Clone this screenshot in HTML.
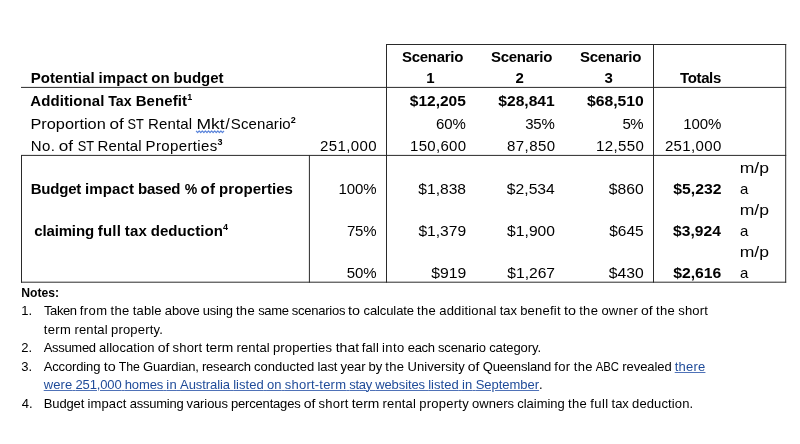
<!DOCTYPE html>
<html lang="en"><head><meta charset="utf-8"><title>Potential impact on budget</title>
<style>
html,body{margin:0;padding:0;background:#fff;}
body{width:800px;height:444px;position:relative;overflow:hidden;will-change:transform;font-family:"Liberation Sans",Arial,Helvetica,sans-serif;color:#000;font-variant-ligatures:none;}
svg.g{position:absolute;left:0;top:0;}
#tx{position:absolute;left:0;top:0;width:800px;height:444px;filter:blur(0.3px);}
.t{position:absolute;white-space:nowrap;line-height:20px;height:20px;transform-origin:0 0;}
.t sup{font-size:60%;font-weight:bold;line-height:0;vertical-align:baseline;position:relative;top:-0.67em;letter-spacing:0;}
.t a{color:#1f4b99;text-decoration:underline #4f72b8;text-decoration-thickness:1px;text-underline-offset:1px;}
.t u{text-decoration:none;}
.t .w{display:inline-block;transform-origin:0 0;}
</style></head>
<body>
<svg class="g" width="800" height="444" viewBox="0 0 800 444"><line x1="21" y1="87.4" x2="786.2" y2="87.4" stroke="#2a2a2a" stroke-width="1"/><line x1="386" y1="44.5" x2="786.2" y2="44.5" stroke="#2a2a2a" stroke-width="1"/><line x1="386.5" y1="44" x2="386.5" y2="282.7" stroke="#2a2a2a" stroke-width="1"/><line x1="653.5" y1="44" x2="653.5" y2="282.7" stroke="#2a2a2a" stroke-width="1"/><line x1="785.7" y1="44" x2="785.7" y2="282.7" stroke="#2a2a2a" stroke-width="1"/><line x1="21" y1="155.4" x2="786.2" y2="155.4" stroke="#2a2a2a" stroke-width="1"/><line x1="21.5" y1="155" x2="21.5" y2="282.7" stroke="#2a2a2a" stroke-width="1"/><line x1="309.4" y1="155" x2="309.4" y2="282.7" stroke="#2a2a2a" stroke-width="1"/><line x1="21" y1="282.2" x2="786.2" y2="282.2" stroke="#2a2a2a" stroke-width="1"/><polyline points="196.10,130.85 197.65,132.55 199.20,130.85 200.75,132.55 202.30,130.85 203.85,132.55 205.40,130.85 206.95,132.55 208.50,130.85 210.05,132.55 211.60,130.85 213.15,132.55 214.70,130.85 216.25,132.55 217.80,130.85 219.35,132.55 220.90,130.85 222.45,132.55 224.00,130.85" fill="none" stroke="#5a84da" stroke-width="1.2" stroke-linejoin="round"/></svg>
<div id="tx">
<div class="t" id="i0" style="top:68px;font-size:15px;font-weight:bold;left:0;transform:translateX(30.65px);word-spacing:-0.30px;"><span style="letter-spacing:0.08px">Potential</span> <span style="letter-spacing:0.09px">impact</span> <span style="letter-spacing:0.03px">on</span> <span style="letter-spacing:-0.01px">budget</span></div>
<div class="t" id="i1" style="top:47px;font-size:15px;font-weight:bold;left:0;transform:translateX(402.00px);word-spacing:-0.30px;"><span style="letter-spacing:-0.29px">Scenario</span></div>
<div class="t" id="i2" style="top:68px;font-size:15px;font-weight:bold;left:0;transform:translateX(426.17px);">1</div>
<div class="t" id="i3" style="top:47px;font-size:15px;font-weight:bold;left:0;transform:translateX(491.00px);word-spacing:-0.29px;"><span style="letter-spacing:-0.29px">Scenario</span></div>
<div class="t" id="i4" style="top:68px;font-size:15px;font-weight:bold;left:0;transform:translateX(515.62px);">2</div>
<div class="t" id="i5" style="top:47px;font-size:15px;font-weight:bold;left:0;transform:translateX(580.00px);word-spacing:-0.29px;"><span style="letter-spacing:-0.29px">Scenario</span></div>
<div class="t" id="i6" style="top:68px;font-size:15px;font-weight:bold;left:0;transform:translateX(604.62px);">3</div>
<div class="t" id="i7" style="top:68px;font-size:15px;font-weight:bold;left:0;transform:translateX(680.00px);word-spacing:-0.37px;"><span style="letter-spacing:-0.36px">Totals</span></div>
<div class="t" id="i8" style="top:91px;font-size:15px;font-weight:bold;left:0;transform:translateX(30.25px);word-spacing:-0.28px;"><span style="letter-spacing:0.09px">Additional</span> <span class="w" style="transform:scaleX(0.9458);margin-right:-1.34px">Tax</span> <span style="letter-spacing:0.09px">Benefit</span><sup>1</sup></div>
<div class="t" id="i9" style="top:114px;font-size:15px;left:0;transform:translateX(30.40px);word-spacing:-0.29px;"><span class="w" style="transform:scaleX(1.0882);margin-right:6.10px">Proportion</span> <span class="w" style="transform:scaleX(1.1419);margin-right:1.78px">of</span> <span class="w" style="transform:scaleX(0.8535);margin-right:-2.77px">ST</span> <span style="letter-spacing:0.13px">Rental</span> <u class="sq"><span class="w" style="transform:scaleX(1.1645);margin-right:3.98px">Mkt</span></u><span style="margin:0 1.23px">/</span><span style="letter-spacing:0.09px">Scenario</span><sup>2</sup></div>
<div class="t" id="i10" style="top:136px;font-size:15px;left:0;transform:translateX(30.70px);word-spacing:-0.29px;"><span style="letter-spacing:0.38px">No.</span> <span class="w" style="transform:scaleX(1.1420);margin-right:1.78px">of</span> <span class="w" style="transform:scaleX(0.8535);margin-right:-2.77px">ST</span> <span style="letter-spacing:0.13px">Rental</span> <span style="letter-spacing:0.36px">Properties</span><sup>3</sup></div>
<div class="t" id="i11" style="top:91px;font-size:15px;font-weight:bold;left:0;transform:translateX(409.75px);word-spacing:-0.40px;"><span class="w" style="transform:scaleX(1.0341);margin-right:1.85px">$12,205</span></div>
<div class="t" id="i12" style="top:91px;font-size:15px;font-weight:bold;left:0;transform:translateX(498.30px);word-spacing:-0.35px;"><span class="w" style="transform:scaleX(1.0408);margin-right:2.21px">$28,841</span></div>
<div class="t" id="i13" style="top:91px;font-size:15px;font-weight:bold;left:0;transform:translateX(586.90px);word-spacing:-0.29px;"><span class="w" style="transform:scaleX(1.0490);margin-right:2.66px">$68,510</span></div>
<div class="t" id="i14" style="top:114px;font-size:15px;left:0;transform:translateX(436.10px);word-spacing:-0.31px;"><span style="letter-spacing:-0.11px">60%</span></div>
<div class="t" id="i15" style="top:114px;font-size:15px;left:0;transform:translateX(525.20px);word-spacing:-0.39px;"><span style="letter-spacing:-0.20px">35%</span></div>
<div class="t" id="i16" style="top:114px;font-size:15px;left:0;transform:translateX(622.40px);word-spacing:-0.42px;"><span style="letter-spacing:-0.42px">5%</span></div>
<div class="t" id="i17" style="top:114px;font-size:15px;left:0;transform:translateX(683.20px);word-spacing:-0.34px;"><span style="letter-spacing:-0.05px">100%</span></div>
<div class="t" id="i18" style="top:136px;font-size:15px;left:0;transform:translateX(320.10px);word-spacing:-0.20px;"><span style="letter-spacing:0.39px">251,000</span></div>
<div class="t" id="i19" style="top:136px;font-size:15px;left:0;transform:translateX(410.00px);word-spacing:-0.30px;"><span style="letter-spacing:0.30px">150,600</span></div>
<div class="t" id="i20" style="top:136px;font-size:15px;left:0;transform:translateX(507.05px);word-spacing:-0.18px;"><span style="letter-spacing:0.42px">87,850</span></div>
<div class="t" id="i21" style="top:136px;font-size:15px;left:0;transform:translateX(596.05px);word-spacing:-0.24px;"><span style="letter-spacing:0.36px">12,550</span></div>
<div class="t" id="i22" style="top:136px;font-size:15px;left:0;transform:translateX(664.90px);word-spacing:-0.23px;"><span style="letter-spacing:0.37px">251,000</span></div>
<div class="t" id="i23" style="top:179px;font-size:15px;font-weight:bold;left:0;transform:translateX(30.65px);word-spacing:-0.29px;"><span style="letter-spacing:-0.20px">Budget</span> <span style="letter-spacing:0.11px">impact</span> <span style="letter-spacing:-0.20px">based</span> <span class="w" style="transform:scaleX(0.9375);margin-right:-0.83px">%</span> <span style="letter-spacing:0.24px">of</span> <span style="letter-spacing:0.05px">properties</span></div>
<div class="t" id="i24" style="top:221px;font-size:15px;font-weight:bold;left:0;transform:translateX(34.20px);word-spacing:-0.28px;"><span style="letter-spacing:-0.14px">claiming</span> <span style="letter-spacing:0.16px">full</span> <span style="letter-spacing:0.11px">tax</span> <span style="letter-spacing:0.05px">deduction</span><sup>4</sup></div>
<div class="t" id="i25" style="top:179px;font-size:15px;left:0;transform:translateX(338.40px);word-spacing:-0.34px;"><span style="letter-spacing:-0.05px">100%</span></div>
<div class="t" id="i26" style="top:179px;font-size:15px;left:0;transform:translateX(418.30px);word-spacing:-0.34px;"><span class="w" style="transform:scaleX(1.0409);margin-right:1.87px">$1,838</span></div>
<div class="t" id="i27" style="top:179px;font-size:15px;left:0;transform:translateX(506.80px);word-spacing:-0.29px;"><span class="w" style="transform:scaleX(1.0471);margin-right:2.16px">$2,534</span></div>
<div class="t" id="i28" style="top:179px;font-size:15px;left:0;transform:translateX(608.75px);word-spacing:-0.35px;"><span class="w" style="transform:scaleX(1.0470);margin-right:1.57px">$860</span></div>
<div class="t" id="i29" style="top:179px;font-size:15px;font-weight:bold;left:0;transform:translateX(673.30px);word-spacing:-0.29px;"><span class="w" style="transform:scaleX(1.0502);margin-right:2.31px">$5,232</span></div>
<div class="t" id="i30" style="top:158px;font-size:15px;left:0;transform:translateX(739.63px) scaleX(1.1703);">m/p</div>
<div class="t" id="i31" style="top:179px;font-size:15px;left:0;transform:translateX(740.05px);">a</div>
<div class="t" id="i32" style="top:221px;font-size:15px;left:0;transform:translateX(346.90px);word-spacing:-0.36px;"><span style="letter-spacing:-0.16px">75%</span></div>
<div class="t" id="i33" style="top:221px;font-size:15px;left:0;transform:translateX(418.40px);word-spacing:-0.33px;"><span class="w" style="transform:scaleX(1.0417);margin-right:1.91px">$1,379</span></div>
<div class="t" id="i34" style="top:221px;font-size:15px;left:0;transform:translateX(507.10px);word-spacing:-0.31px;"><span class="w" style="transform:scaleX(1.0444);margin-right:2.04px">$1,900</span></div>
<div class="t" id="i35" style="top:221px;font-size:15px;left:0;transform:translateX(609.25px);word-spacing:-0.47px;"><span class="w" style="transform:scaleX(1.0335);margin-right:1.12px">$645</span></div>
<div class="t" id="i36" style="top:221px;font-size:15px;font-weight:bold;left:0;transform:translateX(673.10px);word-spacing:-0.37px;"><span class="w" style="transform:scaleX(1.0400);margin-right:1.84px">$3,924</span></div>
<div class="t" id="i37" style="top:200px;font-size:15px;left:0;transform:translateX(739.63px) scaleX(1.1703);">m/p</div>
<div class="t" id="i38" style="top:221px;font-size:15px;left:0;transform:translateX(740.05px);">a</div>
<div class="t" id="i39" style="top:263px;font-size:15px;left:0;transform:translateX(346.75px);word-spacing:-0.31px;"><span style="letter-spacing:-0.11px">50%</span></div>
<div class="t" id="i40" style="top:263px;font-size:15px;left:0;transform:translateX(431.25px);word-spacing:-0.33px;"><span class="w" style="transform:scaleX(1.0499);margin-right:1.67px">$919</span></div>
<div class="t" id="i41" style="top:263px;font-size:15px;left:0;transform:translateX(507.25px);word-spacing:-0.33px;"><span class="w" style="transform:scaleX(1.0417);margin-right:1.91px">$1,267</span></div>
<div class="t" id="i42" style="top:263px;font-size:15px;left:0;transform:translateX(608.75px);word-spacing:-0.35px;"><span class="w" style="transform:scaleX(1.0470);margin-right:1.57px">$430</span></div>
<div class="t" id="i43" style="top:263px;font-size:15px;font-weight:bold;left:0;transform:translateX(673.25px);word-spacing:-0.31px;"><span class="w" style="transform:scaleX(1.0483);margin-right:2.22px">$2,616</span></div>
<div class="t" id="i44" style="top:242px;font-size:15px;left:0;transform:translateX(739.63px) scaleX(1.1703);">m/p</div>
<div class="t" id="i45" style="top:263px;font-size:15px;left:0;transform:translateX(740.05px);">a</div>
<div class="t" id="i46" style="top:283px;font-size:13px;font-weight:bold;left:0;transform:translateX(21.25px);word-spacing:-0.44px;"><span class="w" style="transform:scaleX(0.9350);margin-right:-2.63px">Notes:</span></div>
<div class="t" id="i47" style="top:301px;font-size:13px;left:0;transform:translateX(21.30px);">1.</div>
<div class="t" id="i48" style="top:301px;font-size:13px;left:0;transform:translateX(43.95px);word-spacing:-0.44px;"><span style="letter-spacing:-0.39px">Taken</span> <span style="letter-spacing:0.39px">from</span> <span style="letter-spacing:0.33px">the</span> <span style="letter-spacing:0.13px">table</span> <span style="letter-spacing:-0.16px">above</span> <span style="letter-spacing:-0.20px">using</span> <span style="letter-spacing:0.33px">the</span> <span style="letter-spacing:-0.35px">same</span> <span style="letter-spacing:-0.24px">scenarios</span> <span class="w" style="transform:scaleX(1.1034);margin-right:1.12px">to</span> <span style="letter-spacing:-0.10px">calculate</span> <span style="letter-spacing:0.33px">the</span> <span style="letter-spacing:0.16px">additional</span> <span style="letter-spacing:-0.05px">tax</span> <span style="letter-spacing:0.24px">benefit</span> <span class="w" style="transform:scaleX(1.1034);margin-right:1.12px">to</span> <span style="letter-spacing:0.33px">the</span> <span style="letter-spacing:0.24px">owner</span> <span class="w" style="transform:scaleX(1.0775);margin-right:0.84px">of</span> <span style="letter-spacing:0.33px">the</span> <span style="letter-spacing:0.19px">short</span></div>
<div class="t" id="i49" style="top:320px;font-size:13px;left:0;transform:translateX(43.75px);word-spacing:-0.44px;"><span style="letter-spacing:0.38px">term</span> <span style="letter-spacing:0.13px">rental</span> <span style="letter-spacing:0.21px">property.</span></div>
<div class="t" id="i50" style="top:338px;font-size:13px;left:0;transform:translateX(21.20px);">2.</div>
<div class="t" id="i51" style="top:338px;font-size:13px;left:0;transform:translateX(43.70px);word-spacing:-0.44px;"><span style="letter-spacing:-0.31px">Assumed</span> <span style="letter-spacing:0.07px">allocation</span> <span class="w" style="transform:scaleX(1.0781);margin-right:0.85px">of</span> <span style="letter-spacing:0.19px">short</span> <span class="w" style="transform:scaleX(1.0635);margin-right:1.65px">term</span> <span style="letter-spacing:0.15px">rental</span> <span style="letter-spacing:0.12px">properties</span> <span class="w" style="transform:scaleX(1.0782);margin-right:1.70px">that</span> <span style="letter-spacing:0.14px">fall</span> <span style="letter-spacing:0.37px">into</span> <span style="letter-spacing:-0.29px">each</span> <span style="letter-spacing:-0.14px">scenario</span> <span style="letter-spacing:-0.08px">category.</span></div>
<div class="t" id="i52" style="top:357px;font-size:13px;left:0;transform:translateX(21.20px);">3.</div>
<div class="t" id="i53" style="top:357px;font-size:13px;left:0;transform:translateX(43.70px);word-spacing:-0.44px;"><span style="letter-spacing:-0.14px">According</span> <span class="w" style="transform:scaleX(1.1038);margin-right:1.13px">to</span> <span class="w" style="transform:scaleX(0.9463);margin-right:-1.20px">The</span> <span style="letter-spacing:-0.14px">Guardian,</span> <span style="letter-spacing:-0.21px">research</span> <span style="letter-spacing:0.02px">conducted</span> <span style="letter-spacing:-0.06px">last</span> <span style="letter-spacing:-0.13px">year</span> <span style="letter-spacing:-0.04px">by</span> <span style="letter-spacing:0.33px">the</span> <span style="letter-spacing:0.01px">University</span> <span class="w" style="transform:scaleX(1.0778);margin-right:0.84px">of</span> <span style="letter-spacing:-0.18px">Queensland</span> <span style="letter-spacing:0.37px">for</span> <span style="letter-spacing:0.33px">the</span> <span class="w" style="transform:scaleX(0.8695);margin-right:-3.49px">ABC</span> <span style="letter-spacing:-0.09px">revealed</span> <a><span style="letter-spacing:0.22px">there</span></a></div>
<div class="t" id="i54" style="top:375px;font-size:13px;left:0;transform:translateX(43.70px);word-spacing:-0.46px;"><a><span style="letter-spacing:0.10px">were</span> <span style="letter-spacing:-0.12px">251,000</span> <span style="letter-spacing:-0.12px">homes</span> <span style="letter-spacing:0.23px">in</span> <span style="letter-spacing:-0.07px">Australia</span> <span style="letter-spacing:0.04px">listed</span> <span style="letter-spacing:0.15px">on</span> <span style="letter-spacing:0.21px">short-term</span> <span style="letter-spacing:-0.30px">stay</span> <span style="letter-spacing:-0.09px">websites</span> <span style="letter-spacing:0.04px">listed</span> <span style="letter-spacing:0.23px">in</span> <span style="letter-spacing:-0.02px">September</span></a><span style="letter-spacing:-0.10px">.</span></div>
<div class="t" id="i55" style="top:394px;font-size:13px;left:0;transform:translateX(21.70px);">4.</div>
<div class="t" id="i56" style="top:394px;font-size:13px;left:0;transform:translateX(43.70px);word-spacing:-0.43px;"><span style="letter-spacing:-0.11px">Budget</span> <span style="letter-spacing:0.15px">impact</span> <span style="letter-spacing:-0.26px">assuming</span> <span style="letter-spacing:-0.09px">various</span> <span style="letter-spacing:-0.19px">percentages</span> <span class="w" style="transform:scaleX(1.0790);margin-right:0.86px">of</span> <span style="letter-spacing:0.20px">short</span> <span class="w" style="transform:scaleX(1.0644);margin-right:1.67px">term</span> <span style="letter-spacing:0.15px">rental</span> <span style="letter-spacing:0.26px">property</span> owners <span style="letter-spacing:-0.01px">claiming</span> <span style="letter-spacing:0.34px">the</span> <span style="letter-spacing:0.38px">full</span> <span style="letter-spacing:-0.04px">tax</span> <span style="letter-spacing:0.13px">deduction.</span></div>
</div>
</body></html>
